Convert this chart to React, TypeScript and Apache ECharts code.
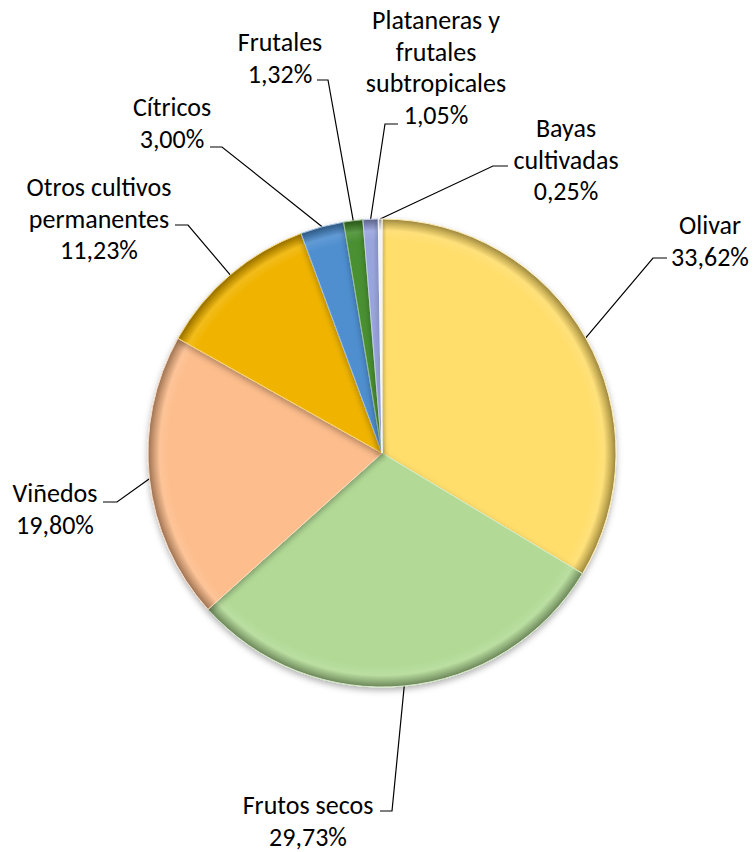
import React, { useEffect, useRef } from "react";
import * as echarts from "echarts";

const CATEGORIES = [
  "Olivar",
  "Frutos secos",
  "Viñedos",
  "Otros cultivos\npermanentes",
  "Cítricos",
  "Frutales",
  "Plataneras y\nfrutales\nsubtropicales",
  "Bayas\ncultivadas",
];
const VALUES = [33.62, 29.73, 19.8, 11.23, 3.0, 1.32, 1.05, 0.25];
const COLORS = ["#FFDE6C", "#B2DA96", "#FDBD8C", "#F0B400", "#4F8FD0", "#4A9032", "#98A4DC", "#F2F2F2"];

// label placement (layout only)
const LINE_H = 31.5;
const LABEL_PLACE = [
  { cx: 710, y1: 225, stub: [[653, 258], [667, 258]] },
  { cx: 308, y1: 805, stub: [[392, 811], [380, 811]] },
  { cx: 55, y1: 493, stub: [[117, 502], [103, 502]] },
  { cx: 99, y1: 187, stub: [[188, 225], [175, 225]] },
  { cx: 172, y1: 107, stub: [[222, 147], [210, 147]] },
  { cx: 280, y1: 42, stub: [[328, 80], [317, 80]] },
  { cx: 436, y1: 20, stub: [[385, 124], [398, 124]] },
  { cx: 566, y1: 128, stub: [[493, 166], [508, 166]] },
];

const CX = 382;
const CY = 453;
const R = 234;

function hexToRgb(h: string) {
  const n = parseInt(h.slice(1), 16);
  return [(n >> 16) & 255, (n >> 8) & 255, n & 255];
}
function mix(h: string, target: number[], t: number) {
  const c = hexToRgb(h);
  const r = c.map((v, i) => Math.round(v + (target[i] - v) * t));
  return `rgb(${r[0]},${r[1]},${r[2]})`;
}
const lighten = (h: string, t: number) => mix(h, [255, 255, 255], t);
const darken = (h: string, t: number) => mix(h, [0, 0, 0], t);

function fmt(v: number) {
  return v.toFixed(2).replace(".", ",") + "%";
}

export default function App() {
  const ref = useRef<HTMLDivElement>(null);
  useEffect(() => {
    document.body.style.margin = "0";
    const chart = echarts.init(ref.current!, null, { renderer: "svg" });
    const data = VALUES.map((v, i) => ({
      name: CATEGORIES[i],
      value: v,
      itemStyle: {
        color: {
          type: "radial",
          x: CX,
          y: CY,
          r: R,
          global: true,
          colorStops: [
            { offset: 0, color: COLORS[i] },
            { offset: 0.91, color: COLORS[i] },
            { offset: 0.95, color: lighten(COLORS[i], 0.1) },
            { offset: 0.98, color: darken(COLORS[i], 0.22) },
            { offset: 1, color: darken(COLORS[i], 0.4) },
          ],
        },
        borderColor: lighten(COLORS[i], 0.45),
        borderWidth: 1,
      },
    }));
    chart.setOption({
      animation: false,
      backgroundColor: "#ffffff",
      series: [
        {
          type: "pie",
          center: [CX, CY],
          radius: R,
          startAngle: 90,
          clockwise: true,
          avoidLabelOverlap: false,
          minShowLabelAngle: 0,
          data,
          itemStyle: {
            shadowBlur: 6,
            shadowOffsetY: 3,
            shadowColor: "rgba(0,0,0,0.3)",
          },
          label: {
            show: true,
            position: "outside",
            formatter: (p: any) => `${p.name}\n${fmt(p.value)}`,
            fontFamily: "Carlito, Lato, sans-serif",
            fontSize: 26,
            lineHeight: LINE_H,
            color: "#000000",
            align: "center",
          },
          labelLine: {
            show: true,
            length: 10,
            length2: 10,
            smooth: false,
            lineStyle: { color: "#000000", width: 1.2 },
          },
          labelLayout: (params: any) => {
            const i = params.dataIndex;
            const L = LABEL_PLACE[i];
            const pts = params.labelLinePoints;
            const anchor = pts && pts[0] ? pts[0] : [CX, CY - R];
            return {
              x: L.cx,
              y: L.y1 - LINE_H / 2,
              align: "center",
              verticalAlign: "top",
              labelLinePoints: [anchor, L.stub[0], L.stub[1]],
            };
          },
        },
      ],
    });
    return () => chart.dispose();
  }, []);
  return <div ref={ref} style={{ width: 754, height: 852 }} />;
}
